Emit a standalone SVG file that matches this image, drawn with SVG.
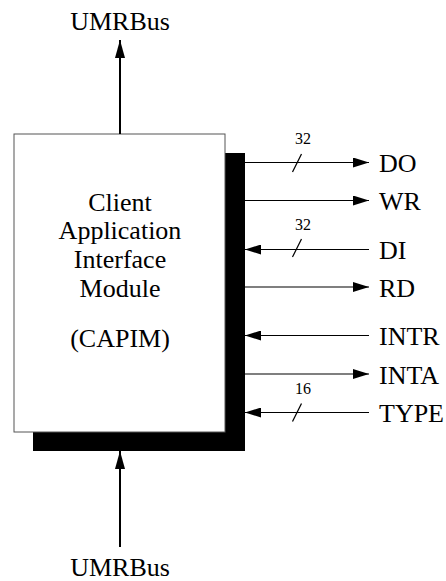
<svg xmlns="http://www.w3.org/2000/svg" width="446" height="581" viewBox="0 0 446 581">
  <style>
    text { font-family: "Liberation Serif", "Times New Roman", serif; fill: #000; }
    .big { font-size: 26px; }
    .sig { font-size: 26px; }
    .bus { font-size: 16px; text-anchor: middle; }
    .wire { stroke: #000; stroke-width: 1.2; fill: none; }
    .thick { stroke: #000; stroke-width: 2; fill: none; }
    .slash { stroke: #000; stroke-width: 1.2; }
  </style>
  <defs>
    <marker id="arr" viewBox="0 0 16 10" refX="16" refY="5" markerWidth="16" markerHeight="10" markerUnits="userSpaceOnUse" orient="auto">
      <path d="M0,0 L16,5 L0,10 Z" fill="#000"/>
    </marker>
    <marker id="arrV" viewBox="0 0 18 10" refX="18" refY="5" markerWidth="18" markerHeight="10" markerUnits="userSpaceOnUse" orient="auto">
      <path d="M0,0 L18,5 L0,10 Z" fill="#000"/>
    </marker>
  </defs>

  <!-- module block with drop shadow -->
  <g id="capim">
    <rect x="33" y="153" width="212" height="298" fill="#000"/>
    <rect x="14" y="134" width="211" height="298" fill="#fff" stroke="#555" stroke-width="1"/>
    <text class="big" x="120" y="211" text-anchor="middle">Client</text>
    <text class="big" x="120" y="239" text-anchor="middle">Application</text>
    <text class="big" x="120" y="268" text-anchor="middle">Interface</text>
    <text class="big" x="120" y="297" text-anchor="middle">Module</text>
    <text class="big" x="120" y="347" text-anchor="middle">(CAPIM)</text>
  </g>

  <!-- bus labels -->
  <g id="umrbus-top">
    <text class="big" x="120" y="30" text-anchor="middle">UMRBus</text>
  </g>
  <g id="umrbus-bottom">
    <text class="big" x="120" y="576" text-anchor="middle">UMRBus</text>
  </g>

  <!-- signal labels -->
  <g id="signals">
    <text class="sig" x="379" y="172">DO</text>
    <text class="sig" x="379" y="210">WR</text>
    <text class="sig" x="379" y="259">DI</text>
    <text class="sig" x="379" y="297">RD</text>
    <text class="sig" x="379" y="345">INTR</text>
    <text class="sig" x="379" y="384">INTA</text>
    <text class="sig" x="379" y="422">TYPE</text>
  </g>

  <!-- connectors -->
  <g id="connectors">
    <line class="thick" x1="120" y1="134" x2="120" y2="40" marker-end="url(#arrV)"/>
    <line class="thick" x1="120" y1="547" x2="120" y2="451" marker-end="url(#arrV)"/>

    <line class="wire" x1="245" y1="162.5" x2="369" y2="162.5" marker-end="url(#arr)"/>
    <line class="wire" x1="245" y1="200.5" x2="369" y2="200.5" marker-end="url(#arr)"/>
    <line class="wire" x1="369" y1="249.5" x2="245" y2="249.5" marker-end="url(#arr)"/>
    <line class="wire" x1="245" y1="287" x2="369" y2="287" marker-end="url(#arr)"/>
    <line class="wire" x1="369" y1="335.5" x2="245" y2="335.5" marker-end="url(#arr)"/>
    <line class="wire" x1="245" y1="374" x2="369" y2="374" marker-end="url(#arr)"/>
    <line class="wire" x1="369" y1="412.5" x2="245" y2="412.5" marker-end="url(#arr)"/>

    <!-- bus width ticks -->
    <line class="slash" x1="292.5" y1="172" x2="301.5" y2="154"/>
    <text class="bus" x="303" y="144">32</text>
    <line class="slash" x1="292.5" y1="257" x2="301.5" y2="239"/>
    <text class="bus" x="303" y="230">32</text>
    <line class="slash" x1="292.5" y1="421.5" x2="301.5" y2="403.5"/>
    <text class="bus" x="303" y="394">16</text>
  </g>
</svg>
